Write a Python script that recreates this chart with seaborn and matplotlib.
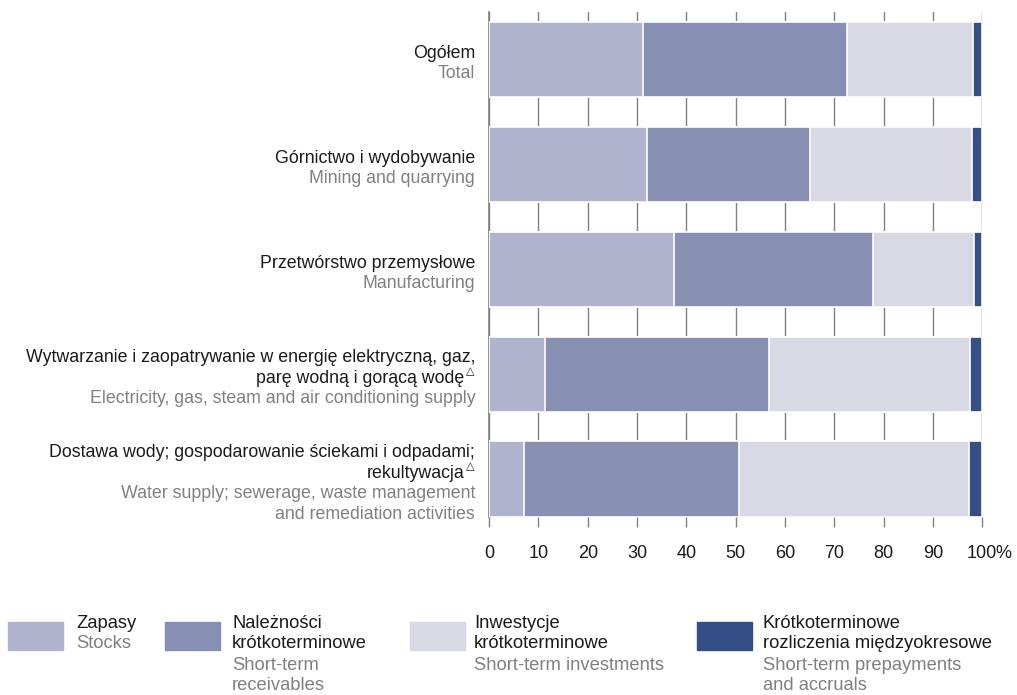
import numpy as np
import pandas as pd
import matplotlib
matplotlib.use("Agg")
import matplotlib.pyplot as plt
from matplotlib.patches import Rectangle
import seaborn as sns

# -------------------------
# DATA
# -------------------------
cat_pl = [
    ["Ogółem"],
    ["Górnictwo i wydobywanie"],
    ["Przetwórstwo przemysłowe"],
    ["Wytwarzanie i zaopatrywanie w energię elektryczną, gaz,", "parę wodną i gorącą wodę"],
    ["Dostawa wody; gospodarowanie ściekami i odpadami;", "rekultywacja"],
]
cat_en = [
    ["Total"],
    ["Mining and quarrying"],
    ["Manufacturing"],
    ["Electricity, gas, steam and air conditioning supply"],
    ["Water supply; sewerage, waste management", "and remediation activities"],
]
cat_mark = [False, False, False, True, True]

stocks = [31.2, 32.0, 37.5, 11.4, 7.1]
receivables = [41.4, 33.1, 40.4, 45.4, 43.6]
investments = [25.6, 32.9, 20.5, 40.8, 46.7]
accruals = [1.8, 2.0, 1.6, 2.4, 2.6]

series_pl = ["Zapasy", "Należności\nkrótkoterminowe", "Inwestycje\nkrótkoterminowe",
             "Krótkoterminowe\nrozliczenia międzyokresowe"]
series_en = ["Stocks", "Short-term\nreceivables", "Short-term investments",
             "Short-term prepayments\nand accruals"]
colors = ["#AFB3CE", "#8790B2", "#D9D9E6", "#354E86"]

ticks = list(range(0, 101, 10))

# -------------------------
# STYLE
# -------------------------
sns.set_style("white")
plt.rcParams["font.family"] = ["Liberation Sans", "DejaVu Sans"]
BLACK = "#1a1a1a"
GREY = "#808080"

df = pd.DataFrame({"cat": [str(i) for i in range(5)],
                   "s1": stocks, "s2": receivables, "s3": investments, "s4": accruals})
cum = df[["s1", "s2", "s3", "s4"]].cumsum(axis=1)

fig = plt.figure(figsize=(10.17, 6.95), dpi=100)
ax = fig.add_axes([0.481, 0.2561, 0.4847, 0.7266])

# draw stacked bars from the outermost cumulative total inwards
for col, c in zip(["s4", "s3", "s2", "s1"], colors[::-1]):
    sns.barplot(x=cum[col], y=df["cat"], orient="h", color=c, width=0.72,
                edgecolor="white", linewidth=1.2, saturation=1, ax=ax, zorder=3)

ax.set_xlim(0, 100)
ax.set_ylim(4.36, -0.455)
ax.set_xlabel("")
ax.set_ylabel("")
ax.set_yticks([])
ax.set_xticks(ticks)
ax.set_xticklabels([str(t) for t in ticks], fontsize=13, color=BLACK)
ax.tick_params(axis="x", length=7, width=1, color=GREY, pad=13, bottom=True)
# percent sign after the last tick label
ax.annotate("%", xy=(1, 0), xycoords="axes fraction", xytext=(13.5, -27.8),
            textcoords="offset pixels", ha="left", va="top", fontsize=13,
            color=BLACK, annotation_clip=False)
ax.grid(axis="x", color=GREY, linewidth=1, zorder=0)
ax.set_axisbelow(True)
for s in ["top", "right", "bottom"]:
    ax.spines[s].set_visible(False)
ax.spines["left"].set_color(GREY)
ax.spines["left"].set_linewidth(1.2)

# category labels, Polish in black and English in grey
fs = 12.8
step = 20.5
for i in range(5):
    lines = [(t, BLACK) for t in cat_pl[i]] + [(t, GREY) for t in cat_en[i]]
    n = len(lines)
    for j, (t, c) in enumerate(lines):
        dy = (n - 1) / 2 * step - j * step - 4
        is_mark = cat_mark[i] and j == len(cat_pl[i]) - 1
        dx = -25 if is_mark else -14
        ax.annotate(t, xy=(0, i), xytext=(dx, dy), textcoords="offset pixels",
                    ha="right", va="center", fontsize=fs, color=c, annotation_clip=False)
        if is_mark:
            ax.annotate("\u25B3", xy=(0, i), xytext=(-15, dy + 7), textcoords="offset pixels",
                        ha="right", va="center", fontsize=8, color=BLACK,
                        family=["DejaVu Sans"], annotation_clip=False)

# legend drawn in figure pixels
W, H = 1017, 695
lfs = 13.2
patch_x = [8, 165, 410, 697]
text_x = [76, 232, 474, 763]
line_y = [623, 644, 665, 686]
for k in range(4):
    fig.patches.append(Rectangle((patch_x[k] / W, 1 - 650 / H), 55 / W, 28 / H,
                                 transform=fig.transFigure, color=colors[k], zorder=1))
    lines = [(t, BLACK) for t in series_pl[k].split("\n")] + \
            [(t, GREY) for t in series_en[k].split("\n")]
    for (t, c), y in zip(lines, line_y):
        fig.text(text_x[k] / W, 1 - y / H, t, ha="left", va="center", fontsize=lfs, color=c)

fig.savefig("out.png", dpi=100)
